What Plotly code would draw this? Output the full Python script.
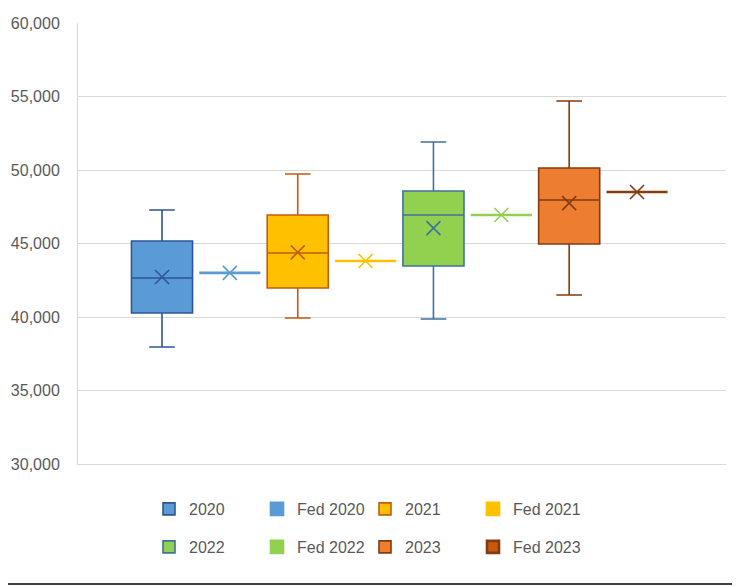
import plotly.graph_objects as go

series = ["2020", "Fed 2020", "2021", "Fed 2021", "2022", "Fed 2022", "2023", "Fed 2023"]
lower_whisker = [37960, 43000, 39930, 43810, 39860, 46940, 41500, 48500]
q1_values = [40270, 43000, 41970, 43810, 43470, 46940, 44970, 48500]
median_values = [42650, 43000, 44350, 43810, 46940, 46940, 47960, 48500]
q3_values = [45170, 43000, 46940, 43810, 48570, 46940, 50140, 48500]
upper_whisker = [47280, 43000, 49730, 43810, 51900, 46940, 54690, 48500]
mean_values = [42720, 43000, 44400, 43810, 46050, 46940, 47750, 48500]

fill_colors = ["#5B9BD5", "#5B9BD5", "#FFC000", "#FFC000", "#92D050", "#92D050", "#ED7D31", "#C55A11"]
line_colors = ["#2F5597", "#5B9BD5", "#C55A11", "#FFC000", "#41719C", "#92D050", "#843C0C", "#843C0C"]
is_fed = [False, True, False, True, False, True, False, True]

y_ticks = [30000, 35000, 40000, 45000, 50000, 55000, 60000]

FONT = "Liberation Sans"
# page body has an 8px default margin, so the figure is drawn 8px smaller
W, H = 732, 578
ml, mr, mt, mb = 70, 14, 15, 122

fig = go.Figure()
for i, name in enumerate(series):
    fig.add_trace(go.Box(
        x=[i], q1=[q1_values[i]], median=[median_values[i]], q3=[q3_values[i]],
        lowerfence=[lower_whisker[i]], upperfence=[upper_whisker[i]],
        name=name, width=0.9, whiskerwidth=0.42,
        fillcolor=fill_colors[i],
        line=dict(color=line_colors[i], width=2.6 if is_fed[i] else 1.6),
        boxpoints=False, hoverinfo="y",
        legend="legend" if i < 4 else "legend2",
    ))
    fig.add_trace(go.Scatter(
        x=[i], y=[mean_values[i]], mode="markers", showlegend=False,
        marker=dict(symbol="x-thin", size=14,
                    line=dict(color=line_colors[i], width=1.6)),
        hoverinfo="y",
    ))

pw = W - ml - mr
ph = H - mt - mb
legend_common = dict(orientation="h", xanchor="left", yanchor="middle",
                     entrywidth=63, entrywidthmode="pixels",
                     font=dict(family=FONT, size=16, color="#595959"),
                     bgcolor="rgba(0,0,0,0)", borderwidth=0)
fig.update_layout(
    width=W, height=H,
    margin=dict(l=ml, r=mr, t=mt, b=mb, autoexpand=False),
    paper_bgcolor="white", plot_bgcolor="white",
    font=dict(family=FONT, size=16, color="#595959"),
    xaxis=dict(range=[-1.238, 8.311], showticklabels=False, showgrid=False,
               zeroline=False, ticks="", showline=True, linecolor="#D9D9D9",
               mirror=False),
    yaxis=dict(range=[30000, 60000], tickvals=y_ticks, tickformat=",",
               showgrid=True, gridcolor="#D9D9D9", gridwidth=1,
               zeroline=False, showline=True, linecolor="#D9D9D9",
               ticks="", ticklen=0, ticklabelstandoff=14,
               tickfont=dict(size=16, color="#595959")),
    legend=dict(x=(141 - ml) / pw, y=-(501 - 456) / ph, **legend_common),
    legend2=dict(x=(141 - ml) / pw, y=-(539 - 456) / ph, **legend_common),
    showlegend=True,
)

# chart border (right edge) and dark bottom edge
fig.add_shape(type="line", xref="paper", yref="paper",
              x0=(729 - ml) / pw, x1=(729 - ml) / pw,
              y0=-(mb - 2) / ph, y1=1 + mt / ph,
              line=dict(color="#D0D0D0", width=1.5), layer="above")
fig.add_shape(type="line", xref="paper", yref="paper",
              x0=-ml / pw, x1=(W - ml) / pw,
              y0=-(576 - 456) / ph, y1=-(576 - 456) / ph,
              line=dict(color="#404040", width=2))

fig.write_html("out.html")
